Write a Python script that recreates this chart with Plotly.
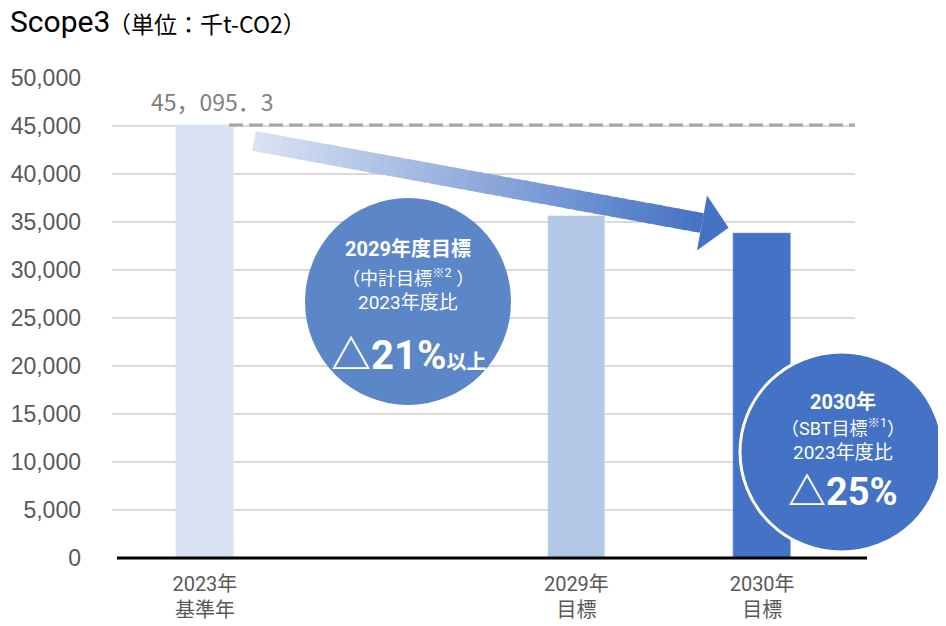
import math
import plotly.graph_objects as go

# data
categories = ["2023年<br>基準年", " ", "2029年<br>目標", "2030年<br>目標"]
emissions = [45095.3, None, 35625.3, 33821.5]
bar_colors = ["#DAE3F3", "#FFFFFF", "#B4C7E7", "#4472C4"]
y_ticks = list(range(0, 50001, 5000))
base_value = emissions[0]

# page has an 8px body margin, so the figure is a bit smaller than the window
OFF = 8
W, H = 946 - OFF, 626 - OFF
PL, PT, PW, PH = 112, 78, 743, 480   # plot area in page pixels
L, T = PL - OFF, PT - OFF
R, B = W - L - PW, H - T - PH

def px(x):
    return (x - PL) / PW

def py(y):
    return (PT + PH - y) / PH

FONT = "Roboto, 'Noto Sans CJK JP', sans-serif"
JP = "'Noto Sans CJK JP', sans-serif"

fig = go.Figure()
fig.add_trace(go.Bar(x=categories, y=emissions, marker_color=bar_colors,
                     width=0.31, hoverinfo="skip"))

shapes = []
# dashed line at base year level
shapes.append(dict(type="line", xref="paper", yref="y", x0=px(229), x1=1,
                   y0=base_value, y1=base_value,
                   line=dict(color="#A6A6A6", width=3, dash="14px,6px")))
# axis line
shapes.append(dict(type="line", xref="paper", yref="paper", x0=px(117), x1=px(867),
                   y0=0, y1=0, line=dict(color="black", width=3)))

# gradient arrow
x0, y0, x1, y1 = 254, 141, 702, 223
d = math.hypot(x1 - x0, y1 - y0)
ux, uy = (x1 - x0) / d, (y1 - y0) / d
nx, ny = -uy, ux
hw = 10
c0 = (218, 227, 243)
c1 = (68, 114, 196)
N = 50
for i in range(N):
    ta = i / N
    tb = min(1.0, (i + 1.4) / N)
    tm = (i + 0.5) / N
    ax, ay = x0 + (x1 - x0) * ta, y0 + (y1 - y0) * ta
    bx, by = x0 + (x1 - x0) * tb, y0 + (y1 - y0) * tb
    pts = [(ax - nx * hw, ay - ny * hw), (bx - nx * hw, by - ny * hw),
           (bx + nx * hw, by + ny * hw), (ax + nx * hw, ay + ny * hw)]
    col = "rgb(%d,%d,%d)" % tuple(round(c0[k] + (c1[k] - c0[k]) * tm) for k in range(3))
    path = "M " + " L ".join("%.5f,%.5f" % (px(a), py(b)) for a, b in pts) + " Z"
    shapes.append(dict(type="path", xref="paper", yref="paper", path=path,
                       fillcolor=col, line=dict(width=0)))
hh = 28
head = [(x1 - nx * hh, y1 - ny * hh), (x1 + ux * 27, y1 + uy * 27), (x1 + nx * hh, y1 + ny * hh)]
shapes.append(dict(type="path", xref="paper", yref="paper",
                   path="M " + " L ".join("%.5f,%.5f" % (px(a), py(b)) for a, b in head) + " Z",
                   fillcolor="#4472C4", line=dict(width=0)))

# circles
shapes.append(dict(type="circle", xref="paper", yref="paper",
                   x0=px(305), x1=px(511), y0=py(405), y1=py(198),
                   fillcolor="#5B87C9", line=dict(width=0)))
shapes.append(dict(type="circle", xref="paper", yref="paper",
                   x0=px(740), x1=px(943), y0=py(552), y1=py(352),
                   fillcolor="#4472C4", line=dict(color="white", width=3)))

ann = []
ann.append(dict(xref="paper", yref="paper", x=px(8), y=py(21), xanchor="left", yanchor="middle",
                text="Scope3", font=dict(family=FONT, size=30, color="black"), showarrow=False))
ann.append(dict(xref="paper", yref="paper", x=px(106), y=py(23), xanchor="left", yanchor="middle",
                text="（単位：千t-CO2）", font=dict(family=JP, size=23, color="black"), showarrow=False))
label = "{:,.1f}".format(base_value).replace(",", "，").replace(".", "．")
ann.append(dict(xref="x", yref="y", x=categories[0], y=base_value, yanchor="bottom", yshift=5,
                xshift=8, text=label, font=dict(family=JP, size=23, color="#808080"), showarrow=False))

def txt(x, y, s, size, bold=False):
    if bold:
        s = "<b>" + s + "</b>"
    ann.append(dict(xref="paper", yref="paper", x=px(x), y=py(y), xanchor="center", yanchor="middle",
                    text=s, font=dict(family=FONT, size=size, color="white"), showarrow=False))

txt(408, 249, "2029年度目標", 20, True)
txt(408, 277, "（中計目標<sup>※2</sup> ）", 18)
txt(408, 302, "2023年度比", 19)
txt(408, 355, "<b><span style='font-size:40px'>△21%</span>以上</b>", 20)

txt(843, 402, "2030年", 20, True)
txt(843, 427, "（SBT目標<sup>※1</sup>）", 18)
txt(843, 452, "2023年度比", 19)
txt(843, 492, "<b>△25%</b>", 38)

fig.update_layout(
    width=W, height=H, margin=dict(l=L, r=R, t=T, b=B),
    plot_bgcolor="white", paper_bgcolor="white",
    showlegend=False, bargap=0, shapes=shapes, annotations=ann,
    font=dict(family=FONT),
)
fig.update_xaxes(type="category", categoryorder="array", categoryarray=categories,
                 showgrid=False, showline=False, zeroline=False, automargin=False,
                 tickfont=dict(family=FONT, size=20, color="#595959"), ticklabelstandoff=12)
fig.update_yaxes(range=[0, 50000], tickvals=y_ticks, tickformat=",", showgrid=True,
                 gridcolor="#D9D9D9", gridwidth=1.5, zeroline=False, showline=False,
                 automargin=False,
                 tickfont=dict(family="'Liberation Sans', Arial, sans-serif", size=23, color="#595959"),
                 ticklabelstandoff=30)

fig.write_html("out.html")
